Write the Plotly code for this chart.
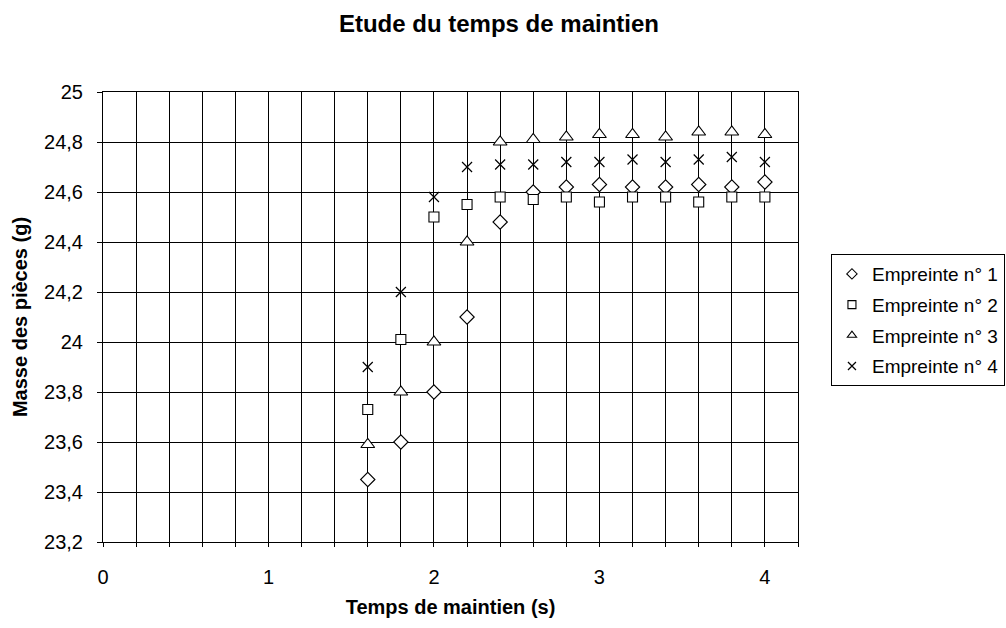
import plotly.graph_objects as go

temps = [1.6, 1.8, 2.0, 2.2, 2.4, 2.6, 2.8, 3.0, 3.2, 3.4, 3.6, 3.8, 4.0]
empreinte1 = [23.45, 23.60, 23.80, 24.10, 24.48, 24.60, 24.62, 24.63, 24.62, 24.62, 24.63, 24.62, 24.64]
empreinte2 = [23.73, 24.01, 24.50, 24.55, 24.58, 24.57, 24.58, 24.56, 24.58, 24.58, 24.56, 24.58, 24.58]
empreinte3 = [23.59, 23.80, 24.00, 24.40, 24.80, 24.81, 24.82, 24.83, 24.83, 24.82, 24.84, 24.84, 24.83]
empreinte4 = [23.90, 24.20, 24.58, 24.70, 24.71, 24.71, 24.72, 24.72, 24.73, 24.72, 24.73, 24.74, 24.72]
noms = ["Empreinte n° 1", "Empreinte n° 2", "Empreinte n° 3", "Empreinte n° 4"]
series = [empreinte1, empreinte2, empreinte3, empreinte4]
symboles = ["diamond", "square", "triangle-up", "x-thin"]
tailles = [11, 10, 12, 10]


def mk(sym, sz):
    if sym == "x-thin":
        return dict(symbol=sym, size=sz, color="black", line=dict(color="black", width=1.2))
    return dict(symbol=sym, size=sz, color="white", line=dict(color="black", width=1.1))


fig = go.Figure()
for i, (nom, ys, sym, sz) in enumerate(zip(noms, series, symboles, tailles)):
    fig.add_trace(go.Scatter(x=temps, y=ys, mode="markers", name=nom, marker=mk(sym, sz),
                             showlegend=False, legendgroup=f"g{i}"))
# legend-only entries with small symbols
for i, (nom, sym) in enumerate(zip(noms, symboles)):
    fig.add_trace(go.Scatter(x=[None], y=[None], mode="markers", name=nom,
                             marker=mk(sym, 8), showlegend=True, legendgroup=f"g{i}"))

font = "Liberation Sans, Arial, sans-serif"
W, H = 1006, 628
fig.update_layout(
    width=W, height=H,
    paper_bgcolor="white", plot_bgcolor="white",
    separators=", ",
    margin=dict(l=103, r=208, t=92, b=86, autoexpand=False),
    font=dict(family=font, size=20, color="black"),
    title=dict(text="<b>Etude du temps de maintien</b>", xref="container", x=0.496, xanchor="center",
               yref="container", y=0.9626, yanchor="middle", font=dict(size=24, family=font)),
    showlegend=True,
    legend=dict(xref="container", yref="container", x=0.826, y=0.5955,
                xanchor="left", yanchor="top",
                bordercolor="black", borderwidth=1, bgcolor="white",
                font=dict(size=19, family=font), itemwidth=30,
                traceorder="grouped", tracegroupgap=3),
    xaxis=dict(
        range=[0, 4.2], tick0=0, dtick=1, showgrid=True, gridcolor="black", gridwidth=1,
        showline=True, linecolor="black", linewidth=1, mirror=True,
        ticks="outside", ticklen=4, tickcolor="black", zeroline=False,
        ticklabelstandoff=13, automargin=False,
        minor=dict(dtick=0.2, showgrid=True, gridcolor="black", gridwidth=1,
                   ticks="outside", ticklen=4, tickcolor="black"),
        title=dict(text="<b>Temps de maintien (s)</b>", font=dict(size=20, family=font), standoff=12),
        tickfont=dict(size=20, family=font),
    ),
    yaxis=dict(
        range=[23.2, 25], tick0=23.2, dtick=0.2, showgrid=True, gridcolor="black", gridwidth=1,
        showline=True, linecolor="black", linewidth=1, mirror=True,
        ticks="outside", ticklen=5, tickcolor="black", zeroline=False,
        ticklabelstandoff=10, automargin=False,
        title=dict(text="<b>Masse des pièces (g)</b>", font=dict(size=20, family=font), standoff=11),
        tickfont=dict(size=20, family=font),
    ),
)

fig.write_html("out.html", config={"displayModeBar": False},
               post_script="document.body.style.margin='0';document.body.style.overflow='hidden';")
